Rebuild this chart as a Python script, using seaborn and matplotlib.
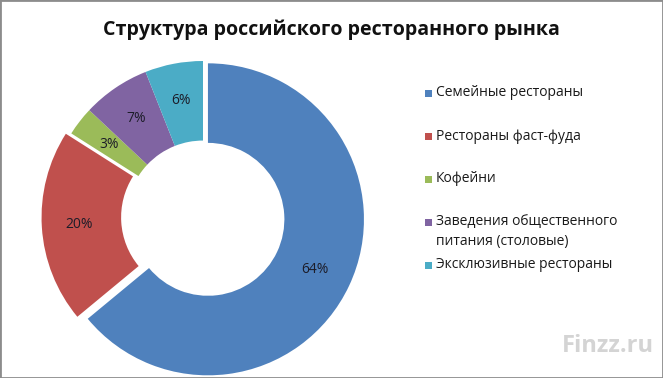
import matplotlib.pyplot as plt
from matplotlib.patches import Rectangle
import seaborn as sns

# data
categories = ["Семейные рестораны", "Рестораны фаст-фуда", "Кофейни",
              "Заведения общественного\nпитания (столовые)", "Эксклюзивные рестораны"]
shares = [64, 20, 3, 7, 6]
explode_parts = [0.035, 0.035, 0, 0, 0]
colors = ["#4F81BD", "#C0504D", "#9BBB59", "#8064A2", "#4BACC6"]
title = "Структура российского ресторанного рынка"

sns.set_style("white")
plt.rcParams["font.family"] = ["Open Sans", "DejaVu Sans"]

W, H = 663, 378
fig = plt.figure(figsize=(W / 100, H / 100), dpi=100)

# donut: centre and radius in pixels
r_px = 156
cx, cy = 203, H - 217
lim = 1.1
size = 2 * lim * r_px
ax = fig.add_axes([(cx - size / 2) / W, (cy - size / 2) / H, size / W, size / H])
wedges, texts, autotexts = ax.pie(
    shares, colors=colors, explode=explode_parts, startangle=90,
    counterclock=False, autopct="%.0f%%", pctdistance=0.76,
    wedgeprops=dict(width=0.51, linewidth=0),
    textprops=dict(fontsize=10, color="#1c1c28"),
)
ax.set_xlim(-lim, lim)
ax.set_ylim(-lim, lim)
ax.axis("off")

fig.text(331 / W, 1 - 35 / H, title, ha="center", va="baseline",
         fontsize=14.1, fontweight="bold", color="#111111")

# legend drawn by hand so the two-line entry keeps the row spacing
for i, (lab, col) in enumerate(zip(categories, colors)):
    y = H - (93 + 43 * i)
    fig.add_artist(Rectangle((425 / W, (y - 3.5) / H), 7 / W, 7 / H,
                             transform=fig.transFigure, facecolor=col, edgecolor="none"))
    fig.text(436 / W, (y + 7.5) / H, lab, ha="left", va="top", fontsize=10,
             color="#1a1a1a", linespacing=1.45)

fig.text(562 / W, 32 / H, "Finzz.ru", ha="left", va="center", fontsize=17,
         fontweight="bold", color="#d4d4d4")

fig.add_artist(Rectangle((0, 0), 1, 1, transform=fig.transFigure, fill=False,
                         edgecolor="#8c8c8c", linewidth=2))

fig.savefig("out.png", dpi=100)
